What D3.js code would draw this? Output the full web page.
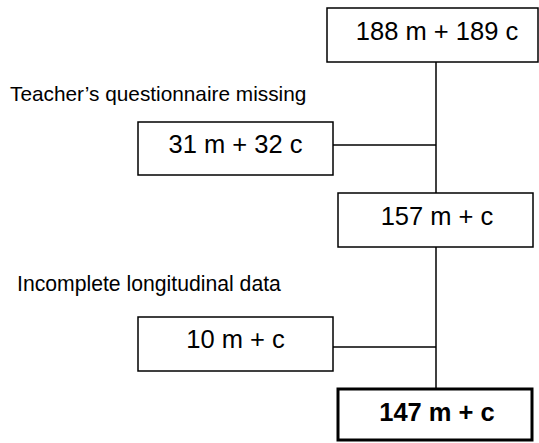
<!DOCTYPE html>
<html>
<head>
<meta charset="utf-8">
<script src="https://cdn.jsdelivr.net/npm/d3@7"></script>
<style>
  html, body { margin: 0; padding: 0; background: #fff; }
  svg { display: block; }
  text { font-family: "Liberation Sans", Arial, Helvetica, sans-serif; fill: #000; }
</style>
</head>
<body>
<script>
// ---- data ----
const mainFlow = ["188 m + 189 c", "157 m + c", "147 m + c"];
const exclusions = ["31 m + 32 c", "10 m + c"];
const exclusionReasons = ["Teacher\u2019s questionnaire missing", "Incomplete longitudinal data"];

// ---- layout ----
const W = 539, H = 443;
const svg = d3.select("body").append("svg").attr("width", W).attr("height", H);

const spineX = 436;
const mainBoxes = [
  {x0: 327, x1: 538, y0: 8,   y1: 62,  bold: false},
  {x0: 338, x1: 533, y0: 193, y1: 247, bold: false},
  {x0: 338, x1: 532, y0: 389, y1: 440, bold: true}
];
const exBoxes = [
  {x0: 138, x1: 333, y0: 122, y1: 175, lineY: 145, labelY: 101, labelX: 10, labelSize: 20.8},
  {x0: 138, x1: 333, y0: 317, y1: 371, lineY: 347, labelY: 291, labelX: 17, labelSize: 21.2}
];

const g = svg.append("g");
for (let i = 0; i < mainBoxes.length - 1; i++) {
  g.append("line")
    .attr("x1", spineX).attr("x2", spineX)
    .attr("y1", mainBoxes[i].y1).attr("y2", mainBoxes[i + 1].y0)
    .attr("stroke", "#000").attr("stroke-width", 1.5);
}

g.selectAll("line.ex").data(exBoxes).join("line")
  .attr("class", "ex")
  .attr("x1", d => d.x1).attr("x2", spineX)
  .attr("y1", d => d.lineY).attr("y2", d => d.lineY)
  .attr("stroke", "#000").attr("stroke-width", 1.5);

const mb = g.selectAll("g.main").data(mainFlow).join("g").attr("class", "main");
mb.append("rect")
  .attr("x", (d, i) => mainBoxes[i].x0)
  .attr("y", (d, i) => mainBoxes[i].y0)
  .attr("width", (d, i) => mainBoxes[i].x1 - mainBoxes[i].x0)
  .attr("height", (d, i) => mainBoxes[i].y1 - mainBoxes[i].y0)
  .attr("fill", "#fff").attr("stroke", "#000")
  .attr("stroke-width", (d, i) => mainBoxes[i].bold ? 3 : 1.5);
mb.append("text")
  .attr("x", spineX + 1)
  .attr("y", (d, i) => mainBoxes[i].y0 + 32)
  .attr("text-anchor", "middle")
  .attr("font-size", 25.5)
  .attr("font-weight", (d, i) => mainBoxes[i].bold ? "bold" : "normal")
  .text(d => d);

const eb = g.selectAll("g.exb").data(exclusions).join("g").attr("class", "exb");
eb.append("rect")
  .attr("x", (d, i) => exBoxes[i].x0)
  .attr("y", (d, i) => exBoxes[i].y0)
  .attr("width", (d, i) => exBoxes[i].x1 - exBoxes[i].x0)
  .attr("height", (d, i) => exBoxes[i].y1 - exBoxes[i].y0)
  .attr("fill", "#fff").attr("stroke", "#000").attr("stroke-width", 1.5);
eb.append("text")
  .attr("x", (d, i) => (exBoxes[i].x0 + exBoxes[i].x1) / 2)
  .attr("y", (d, i) => exBoxes[i].y0 + 31)
  .attr("text-anchor", "middle")
  .attr("font-size", 25.5)
  .text(d => d);

g.selectAll("text.reason").data(exclusionReasons).join("text")
  .attr("class", "reason")
  .attr("x", (d, i) => exBoxes[i].labelX)
  .attr("y", (d, i) => exBoxes[i].labelY)
  .attr("font-size", (d, i) => exBoxes[i].labelSize)
  .text(d => d);
</script>
</body>
</html>
